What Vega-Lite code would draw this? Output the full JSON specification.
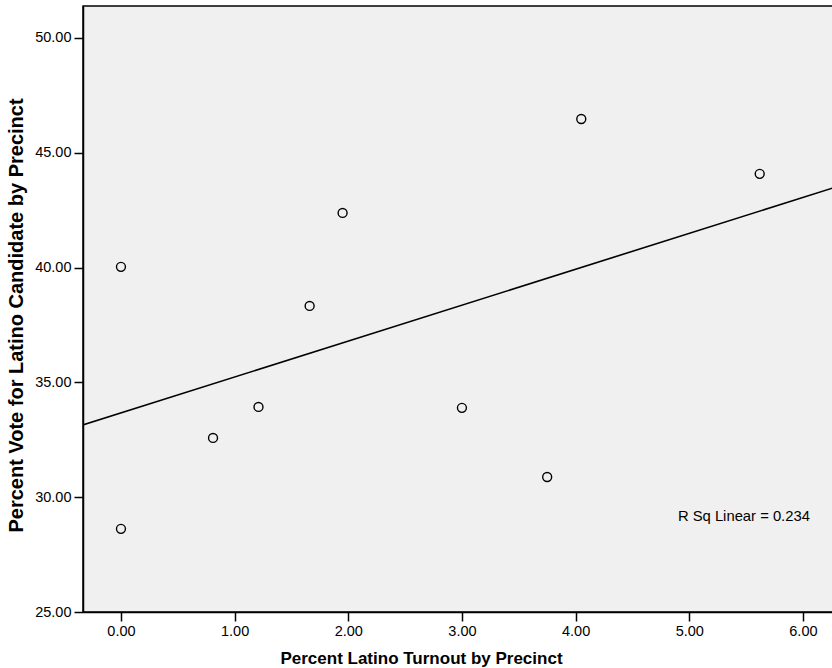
{
  "$schema": "https://vega.github.io/schema/vega-lite/v6.json",
  "autosize": {"type": "none"},
  "padding": {"left": 83, "top": 6, "right": 0, "bottom": 56},
  "width": 754,
  "height": 606,
  "background": "#ffffff",
  "config": {
    "font": "Liberation Sans",
    "view": {"fill": "#f0f0f0", "stroke": "#000000", "strokeWidth": 1.5},
    "axis": {
      "domainColor": "#000000",
      "domainWidth": 1.5,
      "tickColor": "#000000",
      "tickWidth": 1.5,
      "tickSize": 9,
      "ticks": true,
      "labelFont": "Liberation Sans",
      "labelFontSize": 14.5,
      "labelColor": "#000000",
      "labelPadding": 3,
      "titleFont": "Liberation Sans",
      "titleFontSize": 17,
      "titleFontWeight": "bold",
      "titleColor": "#000000",
      "grid": false
    }
  },
  "data": {
    "values": [
      {"turnout": 0.0, "vote": 40.03},
      {"turnout": 0.0, "vote": 28.62},
      {"turnout": 0.81, "vote": 32.58},
      {"turnout": 1.21, "vote": 33.93},
      {"turnout": 1.66, "vote": 38.33},
      {"turnout": 1.95, "vote": 42.38},
      {"turnout": 3.0, "vote": 33.89},
      {"turnout": 3.75, "vote": 30.88},
      {"turnout": 4.05, "vote": 46.47},
      {"turnout": 5.62, "vote": 44.08}
    ]
  },
  "encoding": {
    "x": {
      "field": "turnout",
      "type": "quantitative",
      "scale": {"domain": [-0.334, 6.3], "nice": false, "zero": false},
      "axis": {"values": [0, 1, 2, 3, 4, 5, 6], "format": ".2f", "title": "Percent Latino Turnout by Precinct", "titleFont": "Liberation Sans", "titleFontSize": 17, "titleX": 338, "titleY": 51, "titleAlign": "center", "titleBaseline": "alphabetic"}
    },
    "y": {
      "field": "vote",
      "type": "quantitative",
      "scale": {"domain": [25, 51.39], "nice": false, "zero": false},
      "axis": {"values": [25, 30, 35, 40, 45, 50], "format": ".2f", "title": "Percent Vote for Latino Candidate by Precinct", "titleFont": "Liberation Sans", "titleFontSize": 20, "titlePadding": 8, "titleY": 309, "titleAlign": "center"}
    }
  },
  "layer": [
    {
      "transform": [{"regression": "vote", "on": "turnout", "extent": [-0.5, 6.5]}],
      "mark": {"type": "line", "color": "#000000", "strokeWidth": 1.6, "clip": true},
      "encoding": {}
    },
    {
      "mark": {"type": "point", "shape": "circle", "filled": false, "stroke": "#000000", "strokeWidth": 1.4, "size": 80, "opacity": 1}
    },
    {
      "data": {"values": [{"tx": 4.9, "ty": 29.14, "label": "R Sq Linear = 0.234"}]},
      "mark": {"type": "text", "align": "left", "baseline": "middle", "fontSize": 14.8, "font": "Liberation Sans", "color": "#000000"},
      "encoding": {
        "x": {"field": "tx", "type": "quantitative"},
        "y": {"field": "ty", "type": "quantitative"},
        "text": {"field": "label"}
      }
    }
  ]
}
